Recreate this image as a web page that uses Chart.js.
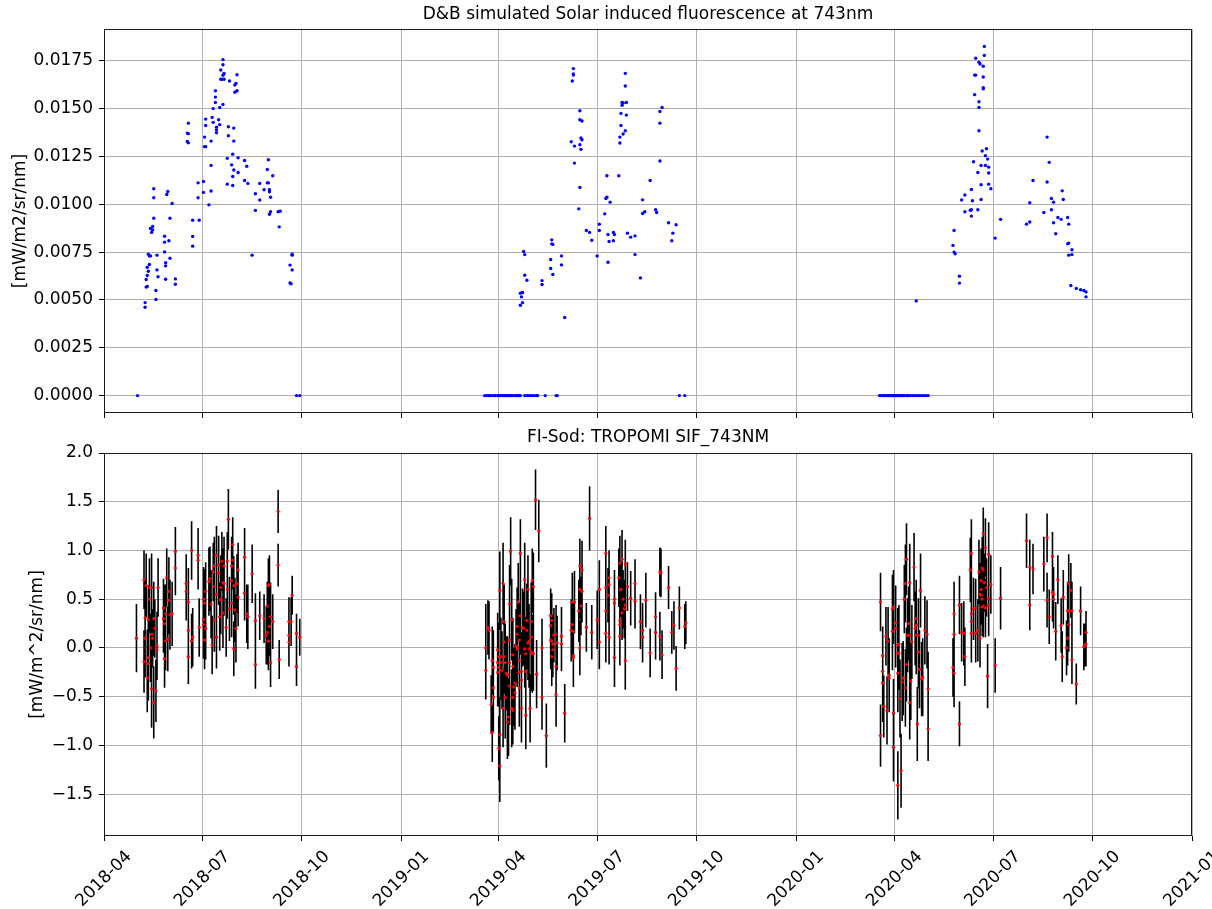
<!DOCTYPE html>
<html>
<head>
<meta charset="utf-8">
<script src="https://cdn.jsdelivr.net/npm/chart.js@4.4.0/dist/chart.umd.min.js"></script>
<style>
  body { margin: 0; background: #fff; }
  #wrap { position: relative; width: 1212px; height: 909px; }
  #topBox { position: absolute; left: 0; top: 0; width: 1212px; height: 420px; }
  #botBox { position: absolute; left: 0; top: 420px; width: 1212px; height: 489px; }
</style>
</head>
<body>
<div id="wrap">
  <div id="topBox"><canvas id="sifChart"></canvas></div>
  <div id="botBox"><canvas id="tropChart"></canvas></div>
</div>
<script>
// x axis: days since 2018-04-01, labelled every 3 months
var tickLabels = ['2018-04', '2018-07', '2018-10', '2019-01', '2019-04', '2019-07', '2019-10',
                  '2020-01', '2020-04', '2020-07', '2020-10', '2021-01'];
var sifTicks = [0, 0.0025, 0.005, 0.0075, 0.01, 0.0125, 0.015, 0.0175];
var tropTicks = [-1.5, -1.0, -0.5, 0.0, 0.5, 1.0, 1.5, 2.0];

// D&B simulated SIF (top panel)
var sifDay2018 = [31,110,110,108,111,110,108,109,111,123,116,122,121,123,121,103,103,103,110,107,
  101,100,94,101,106,107,94,104,104,104,115,120,115,120,78,77,78,77,78,93,
  99,93,94,119,114,124,130,99,118,132,152,151,156,120,124,119,87,92,114,119,
  130,133,144,151,152,148,153,153,154,140,144,92,99,87,97,140,153,154,161,163,
  162,137,174,174,172,174,172,173,178,181,82,88,82,82,46,46,59,58,63,46,
  61,45,43,45,44,56,56,60,56,41,42,43,49,61,42,40,57,57,41,49,
  40,50,39,57,66,66,40,39,48,48,38,38];
var sifVal2018 = [0,0.01756,0.01729,0.01702,0.01684,0.01674,0.01653,0.01653,0.01653,0.01677,
  0.01644,0.01632,0.01623,0.01593,0.01586,0.01593,0.0156,0.01532,0.01522,0.01506,
  0.015,0.01454,0.01445,0.01428,0.01442,0.01416,0.01412,0.01403,0.01389,0.01374,
  0.01405,0.01398,0.01358,0.0133,0.01424,0.01372,0.01369,0.01328,0.01321,0.01351,
  0.0133,0.01301,0.01301,0.01262,0.0124,0.01243,0.01229,0.01203,0.01206,0.01199,
  0.01233,0.01182,0.01149,0.01179,0.01166,0.01145,0.01112,0.01119,0.01105,0.01098,
  0.01124,0.01109,0.01109,0.01112,0.01112,0.01076,0.01076,0.01065,0.01037,0.01055,
  0.01022,0.01062,0.01069,0.01034,0.00997,0.00968,0.00948,0.00961,0.00961,0.00964,
  0.00882,0.00734,0.00739,0.00734,0.00682,0.00657,0.00589,0.00584,0,0,
  0.00917,0.00917,0.00832,0.00781,0.01081,0.01034,0.01067,0.01051,0.01004,0.00927,
  0.00927,0.00884,0.00873,0.00866,0.00853,0.00833,0.00802,0.00809,0.00751,0.00739,
  0.0073,0.0073,0.00734,0.00718,0.00685,0.00671,0.00694,0.00678,0.0065,0.00657,
  0.00628,0.00621,0.00607,0.00608,0.0061,0.00582,0.0057,0.00567,0.00549,0.00502,
  0.00486,0.00462];

var sifDay2019 = [352,354,356,357,359,361,362,364,365,366,367,368,369,370,371,372,373,374,375,376,
  377,378,380,381,382,383,384,385,389,391,392,394,396,398,400,401,408,418,419,532,537,
  434,434,434,433,440,440,442,441,442,432,435,440,441,435,440,439,482,482,479,480,
  483,479,478,483,478,482,480,477,477,465,476,505,464,465,468,463,458,458,446,449,
  451,456,466,471,472,467,471,466,484,487,491,491,496,498,498,500,510,511,514,514,
  514,516,522,529,526,525,414,414,415,413,423,413,423,415,405,405,388,389,389,391,
  385,387,386,387,385,426];
var sifVal2019 = [0,0,0,0,0,0,0,0,0,0,0,0,0,0,0,0,0,0,0,0,
  0,0,0,0,0,0,0,0,0,0,0,0,0,0,0,0,0,0,0,0,0,
  0.01709,0.01681,0.01675,0.01644,0.01489,0.01442,0.01435,0.01346,0.01337,0.01327,
  0.01304,0.01311,0.01287,0.01215,0.01088,0.00976,0.01684,0.01618,0.01532,0.01529,
  0.01532,0.01517,0.01475,0.01466,0.01412,0.01384,0.01367,0.01351,0.0132,0.01149,
  0.01149,0.01124,0.0103,0.01037,0.01011,0.0095,0.00896,0.00863,0.00863,0.00853,
  0.00812,0.0073,0.00842,0.00853,0.00842,0.00805,0.00809,0.00697,0.00849,0.00828,
  0.00835,0.00737,0.00615,0.01023,0.00952,0.00961,0.00971,0.00957,0.01226,0.01424,
  0.01485,0.01506,0.00903,0.00893,0.00849,0.00809,0.00814,0.00793,0.0079,0.00711,
  0.0073,0.00664,0.00683,0.00633,0.00601,0.00581,0.00753,0.00737,0.00629,0.00603,
  0.00535,0.00539,0.00516,0.00486,0.00472,0.00408];

var sifDay2020 = [717,718,720,721,722,723,724,725,726,727,728,729,730,731,732,733,734,735,736,737,
  738,739,740,742,743,744,746,748,750,752,754,756,758,760,762,
  751,814,814,806,809,810,813,805,806,813,813,813,805,809,809,809,812,816,815,817,
  804,811,815,818,808,818,811,818,820,802,796,793,803,811,796,801,802,808,802,829,
  786,824,785,786,787,791,791,872,874,872,859,856,853,856,869,876,878,886,887,876,
  878,882,885,891,892,880,891,892,895,892,895,894,899,903,906,908,908];
var sifVal2020 = [0,0,0,0,0,0,0,0,0,0,0,0,0,0,0,0,0,0,0,0,
  0,0,0,0,0,0,0,0,0,0,0,0,0,0,0,
  0.00495,0.01825,0.01778,0.01763,0.01742,0.01733,0.01721,0.01675,0.01675,0.01665,
  0.01609,0.01604,0.01573,0.01536,0.01506,0.01384,0.01278,0.0129,0.01254,0.01236,
  0.01222,0.01203,0.01203,0.01194,0.01166,0.01163,0.01102,0.01105,0.01081,0.01077,
  0.01048,0.01022,0.01018,0.01025,0.00961,0.00969,0.00971,0.00971,0.00938,0.00921,
  0.00863,0.00823,0.00785,0.0075,0.00741,0.00624,0.00588,0.01351,0.01219,0.01116,
  0.01124,0.01008,0.00896,0.00907,0.00957,0.0103,0.01011,0.0107,0.01025,0.00971,
  0.00903,0.00931,0.00921,0.00931,0.00896,0.00846,0.00793,0.00797,0.00762,0.00734,
  0.00737,0.00575,0.0056,0.00553,0.00549,0.00542,0.00516];

// FI-Sod TROPOMI SIF_743NM (bottom panel): value and error half-length
var tropDay2018 = [30,37,39,42,44,50,42,38,41,46,47,38,44,45,43,49,49,41,37,40,
  41,40,44,48,46,58,60,55,60,57,61,63,55,56,59,57,56,66,66,76,
  76,78,78,78,81,87,87,82,81,88,94,92,93,92,92,94,93,100,104,97,
  98,101,104,106,102,106,102,104,99,108,108,109,111,110,111,114,115,114,108,107,
  102,110,113,116,119,118,119,118,120,123,118,121,122,120,124,124,130,130,132,133,
  137,140,140,144,148,151,153,152,150,151,153,154,152,154,156,161,161,162,174,171,
  173,171,171,178,178,181];
var tropVal2018 = [0.10,0.70,0.64,0.62,0.62,0.62,0.50,0.31,0.29,0.30,
  0.20,0.10,0.14,0.10,0.00,0.02,-0.02,-0.10,-0.14,-0.16,
  -0.16,-0.31,-0.42,-0.44,-0.56,0.72,0.58,0.41,0.49,0.35,
  0.34,0.35,0.30,0.25,0.09,0.07,-0.11,0.99,0.82,0.66,
  0.58,0.47,0.18,-0.09,1.00,0.95,0.90,0.11,0.07,0.21,
  0.58,0.50,0.46,0.29,0.24,0.20,0.08,0.03,0.11,0.68,
  0.71,0.78,0.95,0.77,0.84,0.85,0.63,0.55,0.45,0.50,
  0.62,0.89,0.84,0.67,0.66,0.89,1.32,0.60,0.49,0.32,
  0.29,0.36,0.21,0.40,1.06,0.84,0.90,0.69,0.64,0.66,
  0.46,0.39,0.20,-0.01,0.52,0.80,0.93,0.56,0.35,0.32,
  0.76,0.28,-0.17,0.33,0.30,0.43,0.65,0.64,0.13,0.16,
  0.22,0.32,0.07,-0.15,0.27,1.40,0.85,-0.12,0.54,0.27,
  0.27,0.13,0.06,0.15,-0.19,0.11];
var tropErr2018 = [0.35,0.30,0.33,0.30,0.35,0.30,0.35,0.40,0.35,0.38,
  0.30,0.40,0.35,0.30,0.35,0.35,0.30,0.40,0.32,0.35,
  0.38,0.35,0.40,0.32,0.37,0.30,0.35,0.30,0.35,0.30,
  0.36,0.33,0.35,0.40,0.33,0.30,0.30,0.25,0.28,0.30,
  0.30,0.35,0.27,0.28,0.30,0.28,0.30,0.30,0.28,0.30,
  0.30,0.33,0.35,0.30,0.35,0.32,0.30,0.30,0.32,0.35,
  0.33,0.30,0.30,0.33,0.30,0.30,0.35,0.38,0.35,0.35,
  0.33,0.30,0.30,0.35,0.33,0.30,0.31,0.30,0.35,0.35,
  0.33,0.36,0.30,0.33,0.28,0.30,0.30,0.33,0.30,0.30,
  0.35,0.33,0.35,0.28,0.30,0.28,0.30,0.28,0.30,0.33,
  0.30,0.28,0.25,0.25,0.25,0.25,0.30,0.28,0.30,0.33,
  0.30,0.35,0.30,0.25,0.28,0.22,0.22,0.20,0.20,0.25,
  0.25,0.25,0.25,0.20,0.20,0.19];

var tropDay2019 = [353,353,355,356,359,360,360,360,358,359,364,365,367,364,367,365,364,368,365,366,
  366,366,369,370,370,370,371,369,371,372,373,375,375,375,376,375,373,374,377,378,
  378,379,378,377,378,380,380,381,382,382,382,382,383,384,384,385,385,384,384,386,
  386,386,387,389,389,390,390,388,390,391,391,392,392,393,393,395,395,395,396,396,
  397,394,397,399,402,400,405,405,409,413,413,414,413,414,415,416,418,419,414,415,
  418,418,423,423,426,432,433,435,433,434,434,434,440,442,440,442,441,439,440,446,
  451,449,456,458,458,464,464,466,464,467,467,464,467,472,472,472,477,479,476,478,
  482,484,480,482,481,479,477,477,477,482,487,491,491,496,498,498,501,505,510,510,
  514,515,514,516,522,525,527,529,532,537,538];
var tropVal2019 = [0.00,-0.23,0.21,0.18,-0.13,-0.41,-0.20,-0.51,-0.58,-0.87,
  -0.02,-0.09,-0.09,-0.15,-0.15,-0.20,-0.25,-0.23,-1.03,-1.21,
  -0.89,0.59,0.66,0.27,0.06,-0.09,-0.15,-0.62,-0.51,-0.26,
  -0.28,-0.15,0.08,0.45,0.99,-0.39,-0.76,-0.71,0.29,-0.07,
  -0.19,-0.40,-0.51,-0.62,-0.64,-0.46,-0.36,0.02,0.22,0.14,
  0.00,-0.01,0.47,-0.13,-0.25,0.97,0.33,-0.41,0.08,-0.24,
  -0.33,-0.62,0.21,0.70,-0.01,-0.06,-0.24,0.20,-0.69,0.18,
  0.28,0.60,0.05,-0.01,0.07,0.27,0.11,-0.04,0.69,-0.06,
  0.63,-0.62,-0.06,1.52,1.20,-0.27,0.00,-0.51,-0.90,0.33,
  0.23,0.28,0.08,0.07,0.04,0.13,0.14,0.05,-0.09,-0.02,
  -0.19,-0.48,0.12,0.04,-0.67,0.18,0.47,0.47,0.24,0.17,
  -0.08,-0.10,0.84,0.80,0.60,0.58,0.43,0.38,0.00,0.21,
  0.16,1.33,0.29,0.06,0.60,0.97,0.62,0.54,0.38,0.65,
  0.72,0.15,0.11,0.50,0.46,-0.10,0.87,0.91,0.72,0.60,
  0.86,0.63,0.50,0.44,0.40,0.36,0.28,0.24,0.12,-0.13,
  0.51,0.66,0.48,0.27,0.18,0.11,0.49,-0.05,0.32,0.16,
  0.78,0.77,0.12,-0.07,0.62,0.16,0.23,-0.21,0.41,0.22,0.26];
var tropErr2019 = [0.45,0.30,0.28,0.30,0.35,0.40,0.38,0.35,0.30,0.30,
  0.38,0.35,0.40,0.35,0.38,0.40,0.35,0.40,0.33,0.37,
  0.38,0.40,0.42,0.38,0.40,0.38,0.40,0.40,0.42,0.38,
  0.40,0.35,0.40,0.40,0.35,0.40,0.38,0.40,0.42,0.38,
  0.40,0.40,0.38,0.40,0.35,0.38,0.40,0.38,0.40,0.38,
  0.40,0.38,0.40,0.38,0.40,0.35,0.40,0.40,0.38,0.40,
  0.38,0.35,0.40,0.38,0.40,0.38,0.40,0.38,0.35,0.40,
  0.38,0.35,0.38,0.40,0.38,0.40,0.38,0.40,0.33,0.40,
  0.35,0.35,0.38,0.31,0.32,0.35,0.30,0.33,0.33,0.28,
  0.30,0.28,0.30,0.28,0.30,0.28,0.30,0.28,0.30,0.28,
  0.30,0.33,0.30,0.28,0.30,0.32,0.30,0.32,0.35,0.30,
  0.32,0.30,0.28,0.30,0.30,0.32,0.30,0.32,0.28,0.25,
  0.28,0.33,0.30,0.28,0.30,0.28,0.30,0.28,0.30,0.30,
  0.28,0.30,0.28,0.30,0.28,0.30,0.28,0.30,0.30,0.28,
  0.25,0.25,0.30,0.28,0.30,0.28,0.30,0.32,0.30,0.30,
  0.28,0.25,0.28,0.28,0.28,0.26,0.28,0.25,0.25,0.28,
  0.25,0.25,0.25,0.25,0.22,0.22,0.25,0.23,0.22,0.23,0.22];

var tropDay2020 = [718,718,720,720,720,721,723,725,724,726,726,729,730,729,730,730,732,732,734,735,
  734,734,734,737,736,735,738,739,741,742,740,741,742,743,745,744,745,745,746,747,
  749,751,751,750,751,753,753,754,755,752,756,757,759,761,762,762,785,786,786,786,
  791,791,793,795,796,801,802,802,802,802,804,806,806,808,810,809,812,811,811,810,
  811,813,815,813,814,812,812,813,815,818,818,818,816,820,817,824,829,853,856,859,
  856,872,869,872,877,877,878,878,874,882,887,880,885,886,891,892,892,894,895,892,
  891,890,895,899,903,908,908,907,906];
var tropVal2020 = [0.47,-0.90,-0.24,-0.08,-0.36,-0.60,0.12,0.07,-0.64,-0.28,
  -0.31,0.40,0.42,0.17,-0.67,-1.02,0.26,0.20,0.03,0.04,
  -0.06,-0.26,-1.41,-1.26,-0.52,-0.05,-0.35,-0.31,-0.41,-0.17,
  0.50,0.66,0.91,0.13,0.13,0.25,0.67,-0.56,-0.34,0.06,
  0.83,0.23,0.30,0.20,0.13,0.13,-0.04,-0.22,0.59,-0.78,
  -0.32,-0.30,0.18,0.14,-0.42,-0.83,-0.20,-0.26,0.35,0.14,
  0.44,-0.78,0.16,0.15,-0.09,0.80,0.97,0.15,0.35,0.27,
  0.40,0.41,0.15,0.18,0.10,0.78,0.82,0.69,0.60,0.55,
  0.54,1.17,1.03,0.80,0.67,0.50,0.42,0.43,0.41,0.96,
  0.51,0.44,0.62,0.65,-0.29,-0.18,0.51,1.10,0.83,0.81,
  0.44,1.13,0.86,0.49,0.94,0.57,0.55,0.50,0.32,0.70,
  0.52,0.17,0.23,-0.09,0.38,0.38,0.66,0.59,0.38,0.24,
  0.10,0.00,-0.12,-0.37,0.38,0.16,0.04,0.03,0.01];
var tropErr2020 = [0.30,0.32,0.35,0.30,0.40,0.32,0.30,0.35,0.35,0.38,
  0.35,0.35,0.38,0.40,0.35,0.35,0.38,0.40,0.38,0.40,
  0.38,0.40,0.35,0.38,0.40,0.38,0.40,0.38,0.40,0.38,
  0.35,0.40,0.37,0.38,0.40,0.38,0.40,0.38,0.40,0.38,
  0.35,0.38,0.40,0.38,0.40,0.38,0.38,0.40,0.38,0.38,
  0.38,0.40,0.35,0.35,0.38,0.33,0.30,0.35,0.33,0.30,
  0.30,0.23,0.30,0.33,0.30,0.33,0.35,0.30,0.33,0.30,
  0.32,0.30,0.30,0.32,0.30,0.33,0.32,0.33,0.30,0.32,
  0.30,0.27,0.30,0.32,0.30,0.32,0.30,0.32,0.30,0.33,
  0.30,0.32,0.30,0.30,0.33,0.28,0.32,0.28,0.28,0.26,
  0.26,0.25,0.28,0.28,0.25,0.30,0.28,0.30,0.28,0.25,
  0.28,0.30,0.28,0.26,0.30,0.28,0.30,0.28,0.30,0.28,
  0.28,0.28,0.25,0.21,0.25,0.22,0.23,0.22,0.24];

// ---- helpers ----
var dayZero = Date.UTC(2018, 3, 1);
function labelToDay(s) {
    var p = s.split('-');
    return Math.round((Date.UTC(+p[0], +p[1] - 1, 1) - dayZero) / 86400000);
}
var tickDays = tickLabels.map(labelToDay);

function toPoints(days, vals) {
    var pts = [];
    var n = Math.min(days.length, vals.length);
    for (var i = 0; i < n; i++) pts.push({ x: days[i], y: vals[i] });
    return pts;
}

var tropDay = tropDay2018.concat(tropDay2019, tropDay2020);
var tropVal = tropVal2018.concat(tropVal2019, tropVal2020);
var tropErr = tropErr2018.concat(tropErr2019, tropErr2020);

var fontPx = 17;
Chart.defaults.font.family = "'DejaVu Sans', sans-serif";
Chart.defaults.font.size = fontPx;
Chart.defaults.color = '#000';
Chart.defaults.animation = false;

var gridCol = '#b0b0b0';

function xAxis(height) {
    return {
        type: 'linear',
        min: tickDays[0],
        max: tickDays[tickDays.length - 1],
        border: { display: false },
        grid: { color: gridCol, lineWidth: 1, drawTicks: true, tickLength: 5, tickColor: '#000', tickWidth: 1 },
        ticks: { display: false },
        afterBuildTicks: function(s) { s.ticks = tickDays.map(function(d) { return { value: d }; }); },
        afterFit: function(s) {
            s.height = height;
            s.paddingLeft = 0; s.paddingRight = 0;
        }
    };
}

function yAxis(lo, hi, ticks, fmt, title, titlePad) {
    return {
        type: 'linear',
        min: lo,
        max: hi,
        border: { display: false },
        grid: { color: gridCol, lineWidth: 1, drawTicks: true, tickLength: 5, tickColor: '#000', tickWidth: 1 },
        ticks: { padding: 6, color: '#000', callback: fmt },
        title: { display: true, text: title, color: '#000', padding: { top: titlePad, bottom: 0 }, font: { size: fontPx } },
        afterBuildTicks: function(s) { s.ticks = ticks.map(function(v) { return { value: v }; }); },
        afterFit: function(s) {
            s.width = 104;
            s.paddingTop = 0; s.paddingBottom = 0;
        }
    };
}

// frame, panel title and (optionally) matplotlib style rotated date labels
function panelDecor(title, titleY, withDates) {
    return {
        id: 'panelDecor',
        afterDraw: function(chart) {
            var ctx = chart.ctx, a = chart.chartArea;
            ctx.save();
            ctx.strokeStyle = '#1a1a1a';
            ctx.lineWidth = 1;
            ctx.strokeRect(Math.round(a.left) + 0.5, Math.round(a.top) + 0.5,
                           Math.round(a.right - a.left) - 1, Math.round(a.bottom - a.top) - 1);
            ctx.fillStyle = '#000';
            ctx.font = fontPx + "px 'DejaVu Sans'";
            ctx.textAlign = 'center';
            ctx.textBaseline = 'middle';
            ctx.fillText(title, (a.left + a.right) / 2, titleY);
            if (withDates) {
                var xs = chart.scales.x;
                for (var i = 0; i < tickLabels.length; i++) {
                    var w = ctx.measureText(tickLabels[i]).width;
                    var half = (w + fontPx * 1.16) * Math.SQRT1_2 / 2;
                    ctx.save();
                    ctx.translate(xs.getPixelForValue(tickDays[i]), a.bottom + 11 + half);
                    ctx.rotate(-Math.PI / 4);
                    ctx.fillText(tickLabels[i], 0, 0);
                    ctx.restore();
                }
            }
            ctx.restore();
        }
    };
}

// vertical error bars drawn under the red points
var errorBars = {
    id: 'errorBars',
    beforeDatasetsDraw: function(chart) {
        var ctx = chart.ctx, a = chart.chartArea;
        var xs = chart.scales.x, ys = chart.scales.y;
        ctx.save();
        ctx.beginPath();
        ctx.rect(a.left, a.top, a.right - a.left, a.bottom - a.top);
        ctx.clip();
        ctx.strokeStyle = '#000';
        ctx.lineWidth = 1.6;
        ctx.beginPath();
        for (var i = 0; i < tropDay.length; i++) {
            var x = xs.getPixelForValue(tropDay[i]);
            ctx.moveTo(x, ys.getPixelForValue(tropVal[i] - tropErr[i]));
            ctx.lineTo(x, ys.getPixelForValue(tropVal[i] + tropErr[i]));
        }
        ctx.stroke();
        ctx.restore();
    }
};

// graph 1 - simulated SIF
new Chart(document.getElementById('sifChart'), {
    type: 'scatter',
    data: {
        datasets: [{
            data: toPoints(sifDay2018, sifVal2018)
                .concat(toPoints(sifDay2019, sifVal2019), toPoints(sifDay2020, sifVal2020)),
            backgroundColor: '#0000ff',
            borderWidth: 0,
            pointRadius: 1.7
        }]
    },
    options: {
        responsive: true,
        maintainAspectRatio: false,
        layout: { padding: { left: 0, right: 20, top: 29, bottom: 0 } },
        plugins: { legend: { display: false }, tooltip: { enabled: false } },
        scales: {
            x: xAxis(7),
            y: yAxis(-0.00091, 0.01916, sifTicks,
                     function(v) { return v.toFixed(4); }, '[mW/m2/sr/nm]', 10)
        }
    },
    plugins: [panelDecor('D&B simulated Solar induced fluorescence at 743nm', 15, false)]
});

// graph 2 - TROPOMI SIF with errors
new Chart(document.getElementById('tropChart'), {
    type: 'scatter',
    data: {
        datasets: [{
            data: toPoints(tropDay, tropVal),
            backgroundColor: '#ff0000',
            borderWidth: 0,
            pointRadius: 1.6
        }]
    },
    options: {
        responsive: true,
        maintainAspectRatio: false,
        layout: { padding: { left: 0, right: 20, top: 33, bottom: 0 } },
        plugins: { legend: { display: false }, tooltip: { enabled: false } },
        scales: {
            x: xAxis(73),
            y: yAxis(-1.93, 2.0, tropTicks,
                     function(v) { return v.toFixed(1).replace('-', '\u2212'); }, '[mW/m^2/sr/nm]', 27)
        }
    },
    plugins: [errorBars, panelDecor('FI-Sod: TROPOMI SIF_743NM', 18, true)]
});
</script>
</body>
</html>
